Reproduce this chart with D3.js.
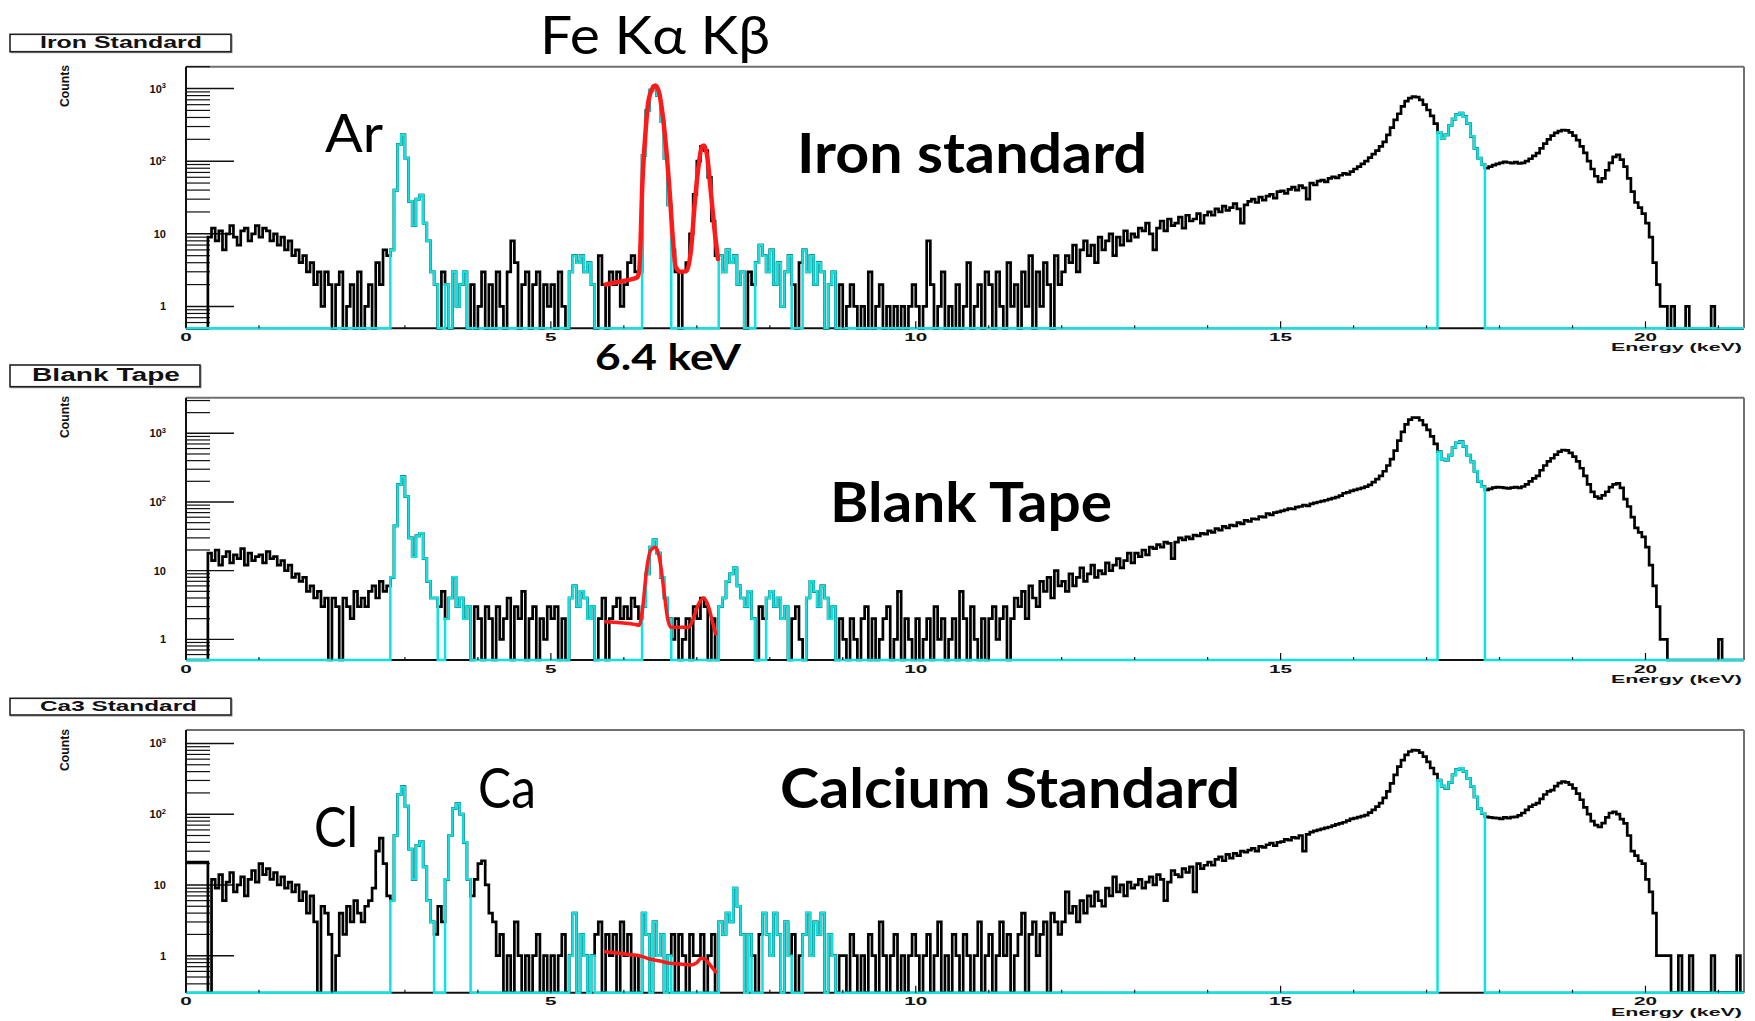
<!DOCTYPE html>
<html>
<head>
<meta charset="utf-8">
<script src="https://cdn.jsdelivr.net/npm/d3@7"></script>
<style>
  html, body { margin: 0; padding: 0; background: #fff; }
  svg { display: block; }
  .root { font-family: "Liberation Sans", Arial, Helvetica, sans-serif; font-weight: bold; }
  .note { font-family: Lato, "Open Sans", "DejaVu Sans", sans-serif; }
</style>
</head>
<body>
<svg id="chart" width="1755" height="1021"></svg>
<script>
// ---------------------------------------------------------------
// XRF spectra: counts per 0.05 keV channel, 0 – 21.35 keV
// ---------------------------------------------------------------
const binWidth = 0.05;      // keV per channel
const energyMax = 21.35;    // keV, right edge of the last channel

const ironCounts = [
  0,0,0,0,0,0,9,12,8,11,6,10,13,9,7,11,12,8,10,13,            // 0-1 keV
  9,12,11,8,10,7,9,6,8,5,6,4,5,3,4,2,3,1,3,2,                 // 1-2
  0,2,3,0,1,2,0,3,0,1,2,0,4,2,6,5,6,40,170,230,               // 2-3
  110,28,13,30,34,14,8,3,2,0,3,2,0,3,1,2,3,0,2,0,             // 3-4
  1,3,0,2,0,3,1,0,3,8,4,0,2,3,0,2,3,0,2,1,                    // 4-5
  2,0,3,1,0,3,5,4,5,3,4,2,0,5,2,0,3,2,3,1,                    // 5-6
  2,4,5,3,3,120,500,950,1080,800,350,110,25,6,3,0,3,4,10,35,  // 6-7
  100,160,140,60,15,5,5,3,6,4,5,2,3,0,3,2,4,7,5,3,            // 7-8
  6,2,4,1,3,5,2,0,4,6,3,5,2,4,3,0,2,3,0,2,                    // 8-9
  0,1,2,1,0,1,0,3,0,1,2,0,1,0,1,0,1,0,1,2,                    // 9-10
  1,0,1,8,2,0,1,3,0,1,0,2,0,1,4,0,1,2,0,3,                    // 10-11
  2,0,3,1,0,4,1,2,0,3,1,5,0,3,1,4,2,0,5,2,                    // 11-12
  3,5,4,7,3,6,8,5,7,4,9,6,8,10,5,9,7,11,8,10,                 // 12-13
  9,12,11,14,10,6,12,15,11,16,13,14,17,12,18,15,16,19,14,18,  // 13-14
  20,18,22,20,24,21,23,26,22,14,25,28,30,27,32,29,33,35,31,38,// 14-15
  39,36,41,44,40,46,43,30,50,47,53,55,52,58,61,59,64,68,66,72,// 15-16
  78,84,92,100,112,125,140,160,185,230,290,370,450,570,670,740,776,760,700,600, // 16-17
  507,420,330,250,207,230,310,380,440,458,410,330,220,150,110,90,80,84,88,92,   // 17-18
  95,98,96,94,97,93,95,100,108,118,129,150,175,200,225,245,260,269,265,250,     // 18-19
  225,195,160,130,100,78,62,52,58,75,95,115,122,105,84,58,38,27,23,19,          // 19-20
  14,9,4,2,1,1,0,1,0,0,0,1,0,0,0,0,0,0,1,0,                   // 20-21
  0,0,0,0,0,0,0                                               // 21-21.35
];

const blankCounts = [
  0,0,0,0,0,0,18,14,20,12,16,19,13,17,15,21,12,18,14,16,
  17,13,19,15,16,12,14,10,12,8,9,7,8,5,6,4,5,3,4,0,
  4,3,0,4,3,2,5,3,4,3,5,6,4,7,5,6,8,45,180,234,
  120,30,16,32,35,15,7,4,4,3,5,2,4,8,3,4,2,3,0,3,
  2,0,3,2,0,3,1,2,4,0,3,2,5,0,2,3,0,2,1,3,
  2,3,0,2,0,4,6,3,5,4,2,3,0,2,4,0,2,3,4,2,
  3,2,4,3,2,3,9,22,28,18,8,4,2,1,2,0,1,2,0,3,
  2,4,3,0,2,0,3,4,7,9,11,6,4,3,5,2,0,3,2,4,
  5,3,4,2,3,0,2,3,1,0,4,7,5,3,6,4,2,3,0,2,
  1,0,2,1,0,2,3,0,2,0,1,2,3,0,1,5,0,2,1,0,
  2,0,1,2,0,3,1,2,0,1,2,0,5,2,0,3,1,0,2,0,
  2,3,1,2,3,0,2,4,3,5,2,6,4,3,7,5,8,4,10,6,
  7,5,9,6,8,11,7,9,12,8,10,9,13,10,12,15,11,14,18,13,
  18,16,20,17,22,21,24,22,26,25,15,26,30,28,31,29,33,32,35,34,
  38,36,41,39,44,42,46,45,50,48,54,52,57,56,61,60,68,65,70,72,
  74,77,80,79,84,86,90,88,94,97,100,103,106,110,114,118,124,134,138,145,
  150,155,160,167,178,195,215,240,280,340,420,560,780,1050,1350,1580,1700,1690,1550,1330,
  1120,900,700,540,420,408,480,620,740,755,640,480,385,280,200,167,150,155,162,165,
  163,160,158,162,165,160,168,180,200,220,240,290,340,390,433,490,540,571,565,520,
  457,390,310,240,180,140,120,113,125,141,165,180,186,160,110,86,60,42,36,31,
  22,12,6,3,1,1,0,0,0,0,0,0,0,0,0,0,0,0,0,0,
  1,0,0,0,0,0,0
];

const calciumCounts = [
  21,21,21,21,21,21,0,12,9,14,6,11,15,8,10,13,7,12,16,11,
  20,14,17,12,15,10,13,9,11,8,10,6,8,4,7,3,0,5,4,2,
  0,1,4,2,5,3,6,4,3,5,6,9,30,46,20,7,6,50,190,245,
  130,32,12,36,41,18,6,3,2,5,3,12,50,120,142,100,40,12,7,12,
  20,22,10,4,3,1,2,0,1,0,3,1,0,1,0,1,2,0,1,0,
  1,0,1,2,0,1,4,0,2,1,0,1,2,3,0,2,1,2,0,3,
  1,2,0,1,0,4,2,0,3,1,2,0,1,2,0,2,1,0,2,1,
  1,2,0,1,2,0,3,2,4,3,9,5,2,0,2,1,0,2,4,2,
  1,4,2,0,3,1,2,0,1,2,4,1,3,2,4,0,2,1,0,1,
  1,0,2,1,0,1,0,2,1,0,3,1,0,1,2,0,1,0,1,2,
  1,0,1,2,0,1,3,0,1,0,2,1,0,2,1,0,1,3,0,1,
  2,0,1,3,1,2,0,1,2,4,0,2,3,1,2,3,0,4,3,2,
  3,8,4,5,3,6,4,7,5,8,6,5,9,7,13,8,10,7,11,9,
  10,12,9,11,13,10,14,12,6,11,16,14,13,17,15,18,8,20,17,19,
  21,19,23,25,22,27,24,28,26,30,29,31,33,30,35,34,37,39,36,40,
  41,44,43,47,46,50,30,52,56,58,60,62,64,66,69,72,74,77,81,86,
  88,91,94,97,105,115,128,143,170,210,273,360,470,583,690,770,807,800,740,650,
  550,450,370,303,250,232,280,360,430,445,400,320,246,175,120,103,92,90,89,88,
  86,90,88,91,92,96,104,115,128,136,143,165,190,210,219,250,275,288,282,262,
  232,195,160,125,100,80,70,66,75,90,104,108,100,85,74,50,30,26,22,20,
  12,8,4,1,1,1,1,0,0,1,0,0,1,0,0,0,0,0,1,0,
  0,0,0,0,0,1,0
];

// Energy windows (keV) highlighted in cyan
const ironWindows    = [[2.8,3.45],[3.55,3.9],[5.25,5.6],[6.25,6.65],[7.3,7.65],[7.8,8.3],[8.45,8.9],[17.15,17.8]];
const blankWindows   = [[2.8,3.45],[3.55,3.9],[5.25,5.6],[6.25,6.65],[7.3,7.8],[7.95,8.3],[8.45,8.9],[17.15,17.8]];
const calciumWindows = [[2.8,3.4],[3.55,3.9],[5.25,5.6],[6.25,6.65],[7.3,7.75],[7.9,8.3],[8.45,8.95],[17.15,17.8]];

// Fe K-alpha / K-beta fit curves (keV, counts)
const ironFitEnergy = [5.75,5.9,6.05,6.18,6.21,6.23,6.25,6.29,6.33,6.38,6.43,6.48,6.53,6.58,6.63,6.67,6.71,6.78,6.86,6.92,6.97,7.02,7.07,7.1,7.14,7.19,7.24,7.29];
const ironFitCounts = [2.0,2.15,2.3,2.5,3,8,40,200,600,950,1100,900,450,150,35,9,3.5,3,3.1,6,25,80,160,165,120,40,12,4.5];
const blankFitEnergy = [5.75,5.95,6.15,6.21,6.26,6.31,6.37,6.43,6.49,6.55,6.6,6.64,6.75,6.89,6.95,7.02,7.09,7.16,7.22,7.26];
const blankFitCounts = [1.8,1.75,1.65,1.6,3,10,20,22,15,5,2,1.5,1.5,1.5,2,3.2,4,3,1.7,1.2];
const calciumFitEnergy = [5.75,5.95,6.1,6.21,6.35,6.5,6.63,6.8,6.92,7.0,7.06,7.12,7.2,7.26];
const calciumFitCounts = [1.14,1.08,1.03,1.0,0.9,0.84,0.78,0.76,0.74,0.8,0.92,0.88,0.7,0.59];

// Axis ticks
const energyTicks = [0, 5, 10, 15, 20];
const countTicks = [1, 10, 100, 1000];
const countTickLabels = [["1", ""], ["10", ""], ["10", "2"], ["10", "3"]];

// ---------------------------------------------------------------
const svg = d3.select("#chart");
const x = d3.scaleLinear().domain([0, energyMax]).range([186, 1744]);

const CYAN = "#10e2e2";
const RED = "#ff1a1a";

const panels = [
  { title: "Iron Standard", counts: ironCounts, windows: ironWindows,
    fitE: ironFitEnergy, fitC: ironFitCounts, fitWidth: 4.5,
    top: 66.7, bottom: 328.3, yDomain: [0.5, 2000],
    box: { x: 10, y: 34.3, w: 221, h: 17.4, cx: 121, base: 48.3, fs: 16, len: 162 },
    countsY: 86 },
  { title: "Blank Tape", counts: blankCounts, windows: blankWindows,
    fitE: blankFitEnergy, fitC: blankFitCounts, fitWidth: 3.5,
    top: 397.7, bottom: 660, yDomain: [0.5, 3300],
    box: { x: 10, y: 365, w: 190, h: 21.7, cx: 106, base: 380.5, fs: 18, len: 148 },
    countsY: 417 },
  { title: "Ca3 Standard", counts: calciumCounts, windows: calciumWindows,
    fitE: calciumFitEnergy, fitC: calciumFitCounts, fitWidth: 3.5,
    top: 730, bottom: 992.7, yDomain: [0.3, 1550],
    box: { x: 10, y: 698.3, w: 221, h: 16.7, cx: 118.5, base: 711, fs: 14, len: 157 },
    countsY: 750 }
];

panels.forEach(p => {
  const y = d3.scaleLog().domain(p.yDomain).range([p.bottom, p.top]).clamp(true);
  const yv = v => y(Math.max(v, p.yDomain[0]));
  const g = svg.append("g");
  const x0 = x.range()[0], x1 = x.range()[1];

  // title box
  g.append("rect").attr("x", p.box.x + 1).attr("y", p.box.y + 1)
    .attr("width", p.box.w).attr("height", p.box.h)
    .attr("fill", "none").attr("stroke", "#888").attr("stroke-width", 1);
  g.append("rect").attr("x", p.box.x).attr("y", p.box.y)
    .attr("width", p.box.w).attr("height", p.box.h)
    .attr("fill", "#fff").attr("stroke", "#222").attr("stroke-width", 1.6);
  g.append("text").attr("class", "root")
    .attr("x", p.box.cx).attr("y", p.box.base).attr("text-anchor", "middle")
    .attr("font-size", p.box.fs).attr("textLength", p.box.len)
    .attr("lengthAdjust", "spacingAndGlyphs").attr("fill", "#111")
    .text(p.title);

  // y-axis title
  g.append("text").attr("class", "root")
    .attr("transform", `translate(69,${p.countsY}) rotate(-90)`)
    .attr("text-anchor", "middle").attr("font-size", 13.5)
    .attr("textLength", 42).attr("lengthAdjust", "spacingAndGlyphs")
    .attr("fill", "#111").text("Counts");

  // frame: top and right edges
  g.append("line").attr("x1", x0).attr("x2", x1).attr("y1", p.top).attr("y2", p.top)
    .attr("stroke", "#707070").attr("stroke-width", 2);
  g.append("line").attr("x1", x1).attr("x2", x1).attr("y1", p.top).attr("y2", p.bottom)
    .attr("stroke", "#707070").attr("stroke-width", 2);

  // log y ticks (inside the frame)
  const [ymin, ymax] = p.yDomain;
  for (let d = Math.floor(Math.log10(ymin)); d <= Math.ceil(Math.log10(ymax)); d++) {
    for (let k = 1; k <= 9; k++) {
      const v = k * Math.pow(10, d);
      if (v < ymin * 0.999 || v > ymax * 1.001) continue;
      const major = k === 1;
      g.append("line").attr("x1", x0).attr("x2", x0 + (major ? 48 : 24))
        .attr("y1", y(v)).attr("y2", y(v))
        .attr("stroke", "#111").attr("stroke-width", major ? 1.4 : 1.2);
    }
  }
  countTicks.forEach((v, i) => {
    if (v < ymin || v > ymax) return;
    const t = g.append("text").attr("class", "root")
      .attr("x", 166).attr("y", y(v) + 4).attr("text-anchor", "end")
      .attr("font-size", 11).attr("fill", "#111");
    t.append("tspan").text(countTickLabels[i][0]);
    if (countTickLabels[i][1]) {
      t.append("tspan").attr("dy", -4.5).attr("font-size", 7.5).text(countTickLabels[i][1]);
    }
  });

  // left axis line and bottom axis line
  g.append("line").attr("x1", x0).attr("x2", x0).attr("y1", p.top).attr("y2", p.bottom)
    .attr("stroke", "#111").attr("stroke-width", 2);
  g.append("line").attr("x1", x0).attr("x2", x1).attr("y1", p.bottom).attr("y2", p.bottom)
    .attr("stroke", "#111").attr("stroke-width", 2);

  // histogram step paths
  const step = d3.line().x(d => x(d[0])).y(d => yv(d[1])).curve(d3.curveStepAfter);
  const toPoints = arr => {
    const pts = arr.map((v, i) => [i * binWidth, v]);
    pts.push([arr.length * binWidth, arr[arr.length - 1]]);
    return pts;
  };

  g.append("path").attr("d", step(toPoints(p.counts)))
    .attr("fill", "none").attr("stroke", "#000").attr("stroke-width", 2.7)
    .attr("stroke-linejoin", "miter");

  const inWindow = e => p.windows.some(w => e >= w[0] && e < w[1]);
  const cyanCounts = p.counts.map((v, i) => inWindow((i + 0.5) * binWidth) ? v : 0);
  g.append("path").attr("d", step(toPoints(cyanCounts)))
    .attr("fill", "none").attr("stroke", CYAN).attr("stroke-width", 2.5);

  // fit curve
  const fit = d3.line().x(d => x(d[0])).y(d => yv(d[1])).curve(d3.curveMonotoneX);
  g.append("path").attr("d", fit(p.fitE.map((e, i) => [e, p.fitC[i]])))
    .attr("fill", "none").attr("stroke", RED).attr("stroke-width", p.fitWidth)
    .attr("stroke-linecap", "round").attr("stroke-linejoin", "round");

  // x ticks
  for (let e = 0; e <= Math.floor(energyMax); e++) {
    const major = e % 5 === 0;
    g.append("line").attr("x1", x(e)).attr("x2", x(e))
      .attr("y1", p.bottom).attr("y2", p.bottom - (major ? 7 : 3))
      .attr("stroke", "#111").attr("stroke-width", 1.2);
  }
  energyTicks.forEach(e => {
    const s = String(e);
    g.append("text").attr("class", "root")
      .attr("x", x(e)).attr("y", p.bottom + 12.5).attr("text-anchor", "middle")
      .attr("font-size", 10.5).attr("textLength", 11.5 * s.length)
      .attr("lengthAdjust", "spacingAndGlyphs").attr("fill", "#111").text(s);
  });
  g.append("text").attr("class", "root")
    .attr("x", 1742).attr("y", p.bottom + 23).attr("text-anchor", "end")
    .attr("font-size", 10.5).attr("textLength", 131)
    .attr("lengthAdjust", "spacingAndGlyphs").attr("fill", "#111")
    .text("Energy (keV)");
});

// slide annotations
const notes = [
  { text: "Fe Kα Kβ",         x: 540, y: 54,    size: 52, weight: 400, len: 230 },
  { text: "Ar",               x: 325, y: 151.7, size: 52, weight: 400, len: 58 },
  { text: "Iron standard",    x: 797, y: 173.3, size: 56, weight: 700, len: 350 },
  { text: "6.4 keV",          x: 595, y: 369.5, size: 37, weight: 700, len: 146 },
  { text: "Blank Tape",       x: 830, y: 521.7, size: 56, weight: 700, len: 282 },
  { text: "Cl",               x: 314, y: 846.7, size: 56, weight: 400, len: 44 },
  { text: "Ca",               x: 478, y: 808.3, size: 56, weight: 400, len: 58 },
  { text: "Calcium Standard", x: 780, y: 808.3, size: 56, weight: 700, len: 460 }
];
svg.append("g").selectAll("text").data(notes).join("text")
  .attr("class", "note")
  .attr("x", d => d.x).attr("y", d => d.y)
  .attr("font-size", d => d.size).attr("font-weight", d => d.weight)
  .attr("textLength", d => d.len).attr("lengthAdjust", "spacingAndGlyphs")
  .attr("fill", "#000")
  .text(d => d.text);
</script>
</body>
</html>
